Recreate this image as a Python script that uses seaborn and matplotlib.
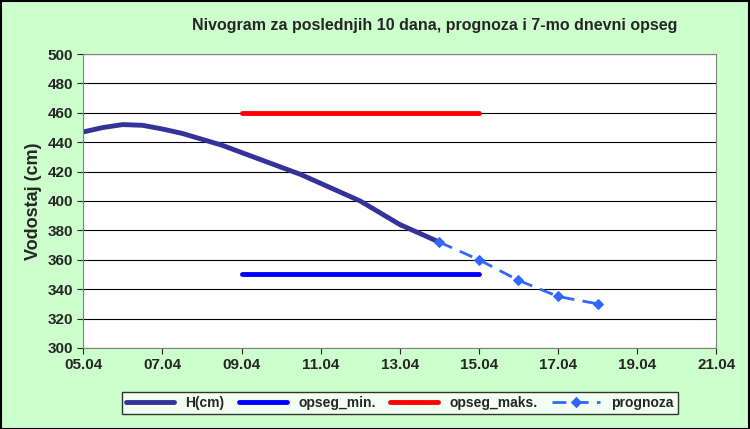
import matplotlib
matplotlib.use("Agg")
import matplotlib.pyplot as plt
import seaborn as sns
import numpy as np
import pandas as pd

# podaci
h_days = [5, 5.5, 6, 6.5, 7, 7.5, 8, 8.5, 9, 9.5, 10, 10.5, 11, 11.5, 12, 12.5, 13, 13.5, 14]
h_vals = [447, 450, 452, 451.5, 449, 446, 442, 438, 433, 428, 423, 418, 412, 406, 400, 392, 384, 378, 372]
prog_days = [14, 15, 16, 17, 18]
prog_vals = [372, 360, 346, 335, 330]
range_days = [9, 15]
opseg_min = [350, 350]
opseg_maks = [460, 460]
tick_days = list(range(5, 22, 2))
tick_labels = [f"{d:02d}.04" for d in tick_days]

sns.set_style("white")
plt.rcParams["font.family"] = ["Liberation Sans", "DejaVu Sans"]

fig = plt.figure(figsize=(7.5, 4.29), dpi=100, facecolor="#CCFFCC")
ax = fig.add_axes([0.111, 0.189, 0.844, 0.685])
ax.set_facecolor("white")

sns.lineplot(x=h_days, y=h_vals, ax=ax, color="#333399", lw=3.5, label="H(cm)")
sns.lineplot(x=range_days, y=opseg_min, ax=ax, color="#0000FF", lw=3.5, label="opseg_min.")
sns.lineplot(x=range_days, y=opseg_maks, ax=ax, color="#FF0000", lw=3.5, label="opseg_maks.")
sns.lineplot(x=prog_days, y=prog_vals, ax=ax, color="#3366FF", lw=2, ls=(0, (5, 3)),
             marker="D", markersize=5, markeredgecolor="#3366FF", label="prognoza")

ax.set_xlim(5, 21)
ax.set_ylim(300, 500)
ax.set_xticks(tick_days)
ax.set_xticklabels(tick_labels)
ax.set_yticks(range(300, 501, 20))
ax.yaxis.grid(True, color="black", lw=0.8)
ax.tick_params(axis="both", labelsize=11, length=4, direction="out", left=True, bottom=True)
for lbl in ax.get_xticklabels() + ax.get_yticklabels():
    lbl.set_fontweight("bold")
for s in ax.spines.values():
    s.set_color("#808080")
ax.set_ylabel("Vodostaj (cm)", fontsize=13, fontweight="bold")
ax.set_xlabel("")
fig.text(0.58, 0.93, "Nivogram za poslednjih 10 dana, prognoza i 7-mo dnevni opseg",
         ha="center", fontsize=11.5, fontweight="bold")

leg = ax.legend(loc="upper center", bbox_to_anchor=(0.5, -0.125), ncol=4, frameon=True,
                fancybox=False, edgecolor="black", fontsize=10, handlelength=3.5,
                columnspacing=1.0, borderpad=0.3)
for t in leg.get_texts():
    t.set_fontweight("bold")

fig.patches.append(plt.Rectangle((0.001, 0.001), 0.997, 0.997, transform=fig.transFigure,
                                 fill=False, edgecolor="black", lw=1.5))
fig.savefig("out.png", dpi=100, facecolor=fig.get_facecolor())
